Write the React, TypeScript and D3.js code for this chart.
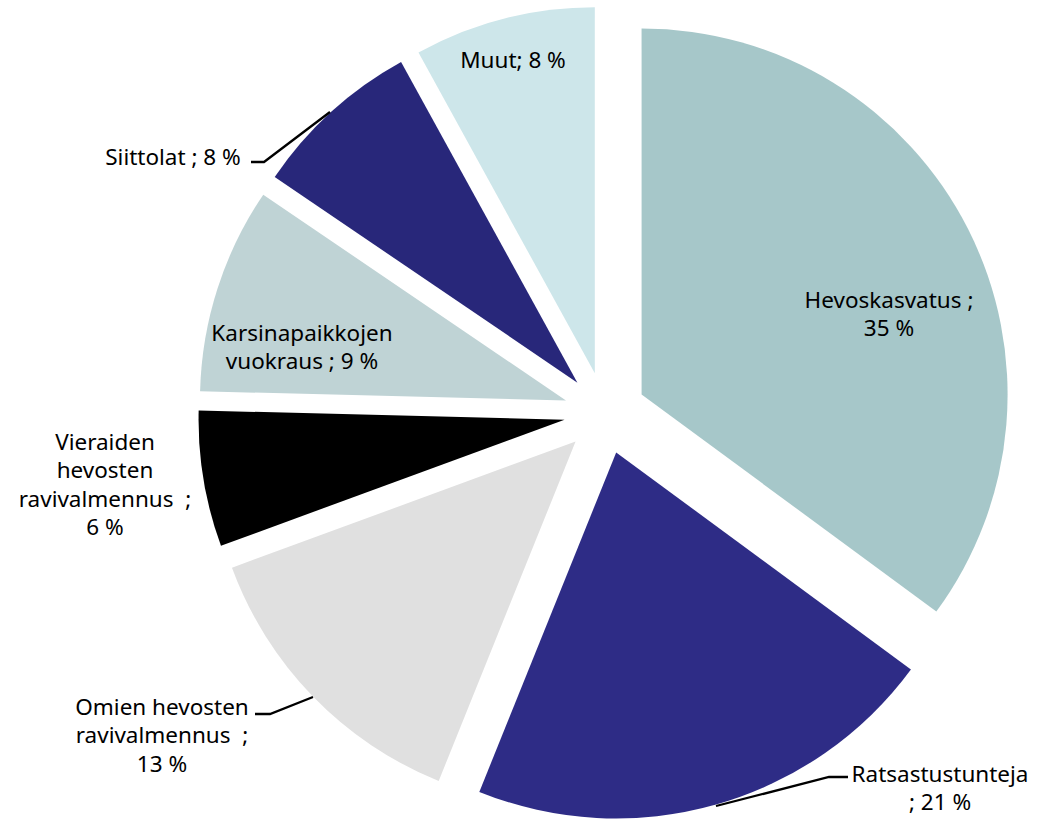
import React from "react";
import * as d3 from "d3";

const categories = [
  "Hevoskasvatus",
  "Ratsastustunteja",
  "Omien hevosten ravivalmennus",
  "Vieraiden hevosten ravivalmennus",
  "Karsinapaikkojen vuokraus",
  "Siittolat",
  "Muut",
];
const values = [35.1, 21.0, 13.3, 6.0, 9.1, 7.5, 8.0];
const percentLabels = ["35 %", "21 %", "13 %", "6 %", "9 %", "8 %", "8 %"];
const labelLines = [
  ["Hevoskasvatus ;", "35 %"],
  ["Ratsastustunteja", "; 21 %"],
  ["Omien hevosten", "ravivalmennus  ;", "13 %"],
  ["Vieraiden", "hevosten", "ravivalmennus  ;", "6 %"],
  ["Karsinapaikkojen", "vuokraus ; 9 %"],
  ["Siittolat ; 8 %"],
  ["Muut; 8 %"],
];
const colors = ["#a6c7c9", "#2e2c86", "#e0e0e0", "#000000", "#bfd3d5", "#28277a", "#cde6ea"];

// layout (not data)
const W = 1044, H = 820;
const CX = 605, CY = 413, R = 366, EXPLODE = 41;
const LINE_H = 28.5;
// label first-line visual center positions
const labelPos: [number, number][] = [
  [889, 300],
  [940, 774],
  [162, 707],
  [105, 442],
  [302, 333],
  [173, 157],
  [513, 60],
];
// leader lines (label end -> slice)
const leaders: ([number, number][] | null)[] = [
  null,
  [[848, 777], [829, 777], [716, 806]],
  [[255, 714], [270, 714], [313, 697]],
  null,
  null,
  [[251, 162], [264, 162], [330, 112]],
  null,
];

export default function App() {
  const pie = d3.pie<number>().sort(null).value((d) => d)(values);
  const arc = d3.arc<d3.PieArcDatum<number>>().innerRadius(0).outerRadius(R);
  const line = d3.line();
  return (
    <svg
      width={W}
      height={H}
      style={{ position: "absolute", left: 0, top: 0, background: "#fff" }}
      fontFamily="'Noto Sans', 'DejaVu Sans', sans-serif"
    >
      <g transform={`translate(${CX},${CY})`}>
        {pie.map((p, i) => {
          const mid = (p.startAngle + p.endAngle) / 2;
          const dx = EXPLODE * Math.sin(mid);
          const dy = -EXPLODE * Math.cos(mid);
          return (
            <path
              key={categories[i]}
              d={arc(p) || ""}
              fill={colors[i]}
              transform={`translate(${dx},${dy})`}
            />
          );
        })}
      </g>
      {leaders.map((pts, i) =>
        pts ? (
          <path key={"l" + i} d={line(pts) || ""} fill="none" stroke="#000" strokeWidth={2.3} />
        ) : null
      )}
      {labelLines.map((lines, i) => (
        <text
          key={"t" + i}
          x={labelPos[i][0]}
          y={labelPos[i][1] + 7.8}
          textAnchor="middle"
          fontSize={22.5}
          fill="#000"
          style={{ whiteSpace: "pre" }}
        >
          {lines.map((ln, j) => (
            <tspan key={j} x={labelPos[i][0]} dy={j === 0 ? 0 : LINE_H}>
              {ln}
            </tspan>
          ))}
        </text>
      ))}
    </svg>
  );
}
